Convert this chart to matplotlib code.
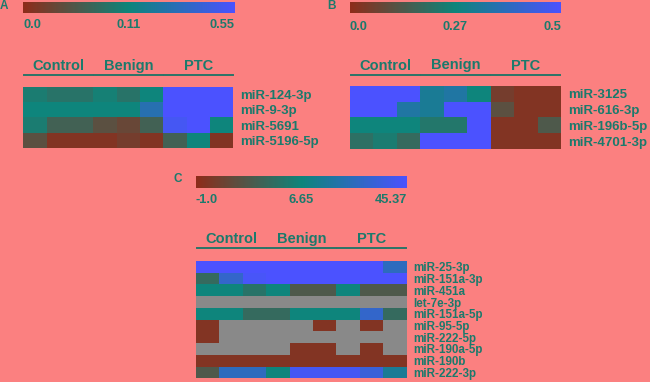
"""
Three miRNA expression heatmaps (A, B, C) across Control / Benign / PTC samples.
Cell values are normalised colour levels (0 = low, 1 = high), NaN = not detected.
"""

import numpy as np
import matplotlib
matplotlib.use("Agg")
import matplotlib.pyplot as plt
from matplotlib.colors import LinearSegmentedColormap
from matplotlib import transforms

W, H = 650, 382
BG = "#FB8080"
TXT = "#1B7A6C"
NAN_GREY = "#898989"

plt.rcParams["font.family"] = ["Liberation Sans", "DejaVu Sans"]
plt.rcParams["font.weight"] = "bold"

groups = ["Control", "Benign", "PTC"]

# --- panel A ---
rows_a = ["miR-124-3p", "miR-9-3p", "miR-5691", "miR-5196-5p"]
vals_a = np.array([
    [0.45, 0.40, 0.40, 0.47, 0.40, 0.50, 1.00, 1.00, 1.00],
    [0.50, 0.50, 0.50, 0.50, 0.50, 0.70, 1.00, 1.00, 1.00],
    [0.45, 0.30, 0.30, 0.20, 0.15, 0.30, 0.95, 1.00, 0.50],
    [0.20, 0.05, 0.05, 0.05, 0.10, 0.05, 0.30, 0.50, 0.05],
])
cbar_a = ["0.0", "0.11", "0.55"]

# --- panel B ---
rows_b = ["miR-3125", "miR-616-3p", "miR-196b-5p", "miR-4701-3p"]
vals_b = np.array([
    [1.00, 1.00, 1.00, 0.60, 0.65, 0.50, 0.10, 0.05, 0.05],
    [1.00, 1.00, 0.65, 0.60, 1.00, 1.00, 0.20, 0.05, 0.05],
    [0.50, 0.50, 0.50, 0.42, 0.42, 1.00, 0.05, 0.05, 0.25],
    [0.38, 0.45, 0.35, 1.00, 1.00, 1.00, 0.05, 0.05, 0.05],
])
cbar_b = ["0.0", "0.27", "0.5"]

# --- panel C ---
n = np.nan
rows_c = ["miR-25-3p", "miR-151a-3p", "miR-451a", "let-7e-3p", "miR-151a-5p",
          "miR-95-5p", "miR-222-5p", "miR-190a-5p", "miR-190b", "miR-222-3p"]
vals_c = np.array([
    [1.00, 1.00, 1.00, 1.00, 1.00, 1.00, 1.00, 1.00, 0.75],
    [0.35, 0.80, 0.97, 1.00, 1.00, 1.00, 1.00, 1.00, 1.00],
    [0.50, 0.50, 0.40, 0.50, 0.25, 0.25, 0.50, 0.25, 0.25],
    [n, n, n, n, n, n, n, n, n],
    [0.50, 0.50, 0.35, 0.35, 0.50, 0.50, 0.50, 0.80, 0.35],
    [0.05, n, n, n, n, 0.05, n, 0.05, n],
    [0.05, n, n, n, n, n, n, n, n],
    [n, n, n, n, 0.05, 0.05, n, 0.05, n],
    [0.05, 0.05, 0.05, 0.05, 0.05, 0.05, 0.05, 0.05, 0.05],
    [0.25, 0.75, 0.75, 0.50, 0.95, 0.95, 0.95, 0.85, 0.60],
])
cbar_c = ["-1.0", "6.65", "45.37"]

cmap = LinearSegmentedColormap.from_list(
    "rtb", [(0.0, "#8E2C1A"), (0.5, "#0E857B"), (1.0, "#4B52FF")])
cmap.set_bad(NAN_GREY)

fig = plt.figure(figsize=(W / 100, H / 100), dpi=100, facecolor=BG)


def px_axes(x0, y0, x1, y1):
    """Axes from pixel box (top-left origin)."""
    ax = fig.add_axes([x0 / W, 1 - y1 / H, (x1 - x0) / W, (y1 - y0) / H])
    ax.set_facecolor(BG)
    return ax


def heatmap(box, vals, rows, label_size, line_off, text_off):
    ax = px_axes(*box)
    nr, nc = vals.shape
    ax.pcolormesh(np.arange(nc + 1), np.arange(nr + 1),
                  np.ma.masked_invalid(vals), cmap=cmap, vmin=0, vmax=1)
    ax.set_xlim(0, nc)
    ax.set_ylim(nr, 0)
    ax.set_xticks([])
    ax.yaxis.tick_right()
    ax.set_yticks(np.arange(nr) + 0.5)
    ax.set_yticklabels(rows, fontsize=label_size, color=TXT, fontweight="bold")
    ax.tick_params(axis="y", length=0, pad=5)
    for s in ax.spines.values():
        s.set_visible(False)
    # group header + underline above the columns
    line_tr = transforms.offset_copy(ax.get_xaxis_transform(), fig=fig,
                                     y=line_off, units="dots")
    text_tr = transforms.offset_copy(ax.get_xaxis_transform(), fig=fig,
                                     y=text_off, units="dots")
    per = nc // len(groups)
    for i, g in enumerate(groups):
        ax.plot([i * per + 0.03, (i + 1) * per - 0.03], [1, 1], color="#2A7468",
                lw=1.4, transform=line_tr, clip_on=False)
        ax.text(i * per + per / 2, 1, g, transform=text_tr, ha="center",
                va="center", fontsize=10.5, color=TXT, fontweight="bold")
    return ax


def colorbar(box, labels, lab_off):
    ax = px_axes(*box)
    ax.imshow(np.linspace(0, 1, 256)[None, :], cmap=cmap, aspect="auto",
              extent=(0, 1, 0, 1))
    ax.set_axis_off()
    tr = transforms.offset_copy(ax.transAxes, fig=fig, y=-lab_off, units="dots")
    for x, lab, ha in zip([0, 0.5, 1], labels, ["left", "center", "right"]):
        ax.text(x, 0, lab, transform=tr, ha=ha, va="center", fontsize=9.3,
                color=TXT, fontweight="bold")


colorbar((23, 2, 234, 13.3), cbar_a, 11.5)
colorbar((350, 2, 561, 13.3), cbar_b, 13.5)
colorbar((196, 176, 407, 187.7), cbar_c, 12.5)

heatmap((23.3, 86.7, 233.3, 148.3), vals_a, rows_a, 9.5, 11.7, 20.7)
heatmap((350, 86, 561, 149), vals_b, rows_b, 9.5, 11.5, 20.5)
heatmap((196, 261, 406.7, 378.3), vals_c, rows_c, 8.4, 12.7, 22)

for x, y, letter in [(3.7, 6, "A"), (332, 6, "B"), (178, 179, "C")]:
    fig.text(x / W, 1 - y / H, letter, ha="center", va="center",
             fontsize=8.5, color=TXT, fontweight="bold")

fig.savefig("out.png", dpi=100, facecolor=BG)
